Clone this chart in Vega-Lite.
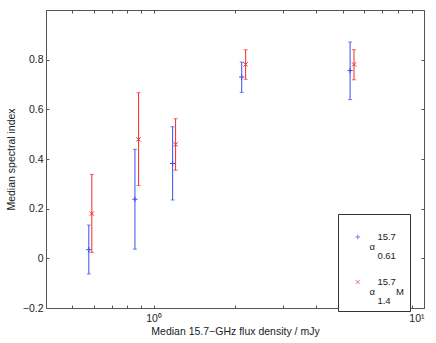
{
  "$schema": "https://vega.github.io/schema/vega-lite/v6.json",
  "width": 378,
  "height": 298,
  "autosize": {"type": "none"},
  "padding": {"left": 46, "top": 10, "right": 12, "bottom": 35},
  "background": "white",
  "config": {
    "font": "Liberation Sans",
    "view": {"stroke": "#555555", "strokeWidth": 1},
    "axis": {"labelFont": "Liberation Sans", "titleFont": "Liberation Sans", "labelFontSize": 10.5, "titleFontSize": 10.5, "titleFontWeight": "normal", "labelColor": "#222", "titleColor": "#222", "domain": false, "grid": false, "tickColor": "#555555", "tickSize": -3},
    "style": {"guide-label": {"lineHeight": 9.5}}
  },
  "data": {"values": [
    {"series": "a", "x": 0.576, "y": 0.035, "lo": -0.063, "hi": 0.134},
    {"series": "a", "x": 0.853, "y": 0.238, "lo": 0.037, "hi": 0.439},
    {"series": "a", "x": 1.176, "y": 0.382, "lo": 0.235, "hi": 0.530},
    {"series": "a", "x": 2.118, "y": 0.730, "lo": 0.668, "hi": 0.790},
    {"series": "a", "x": 5.33, "y": 0.756, "lo": 0.639, "hi": 0.871},
    {"series": "b", "x": 0.591, "y": 0.180, "lo": 0.024, "hi": 0.338},
    {"series": "b", "x": 0.880, "y": 0.479, "lo": 0.293, "hi": 0.667},
    {"series": "b", "x": 1.206, "y": 0.459, "lo": 0.355, "hi": 0.562},
    {"series": "b", "x": 2.19, "y": 0.781, "lo": 0.721, "hi": 0.840},
    {"series": "b", "x": 5.51, "y": 0.781, "lo": 0.719, "hi": 0.840}
  ]},
  "layer": [
    {
      "mark": {"type": "rule", "strokeWidth": 1},
      "encoding": {
        "x": {"field": "x", "type": "quantitative", "scale": {"type": "log", "domain": [0.4, 10], "nice": false},
          "axis": {"orient": "bottom", "title": "Median 15.7−GHz flux density / mJy", "values": [0.4,0.5,0.6,0.7,0.8,0.9,1,2,3,4,5,6,7,8,9,10],
            "labelExpr": "datum.value == 1 ? '10⁰' : datum.value == 10 ? '10¹' : ''", "labelPadding": 8, "titlePadding": 3}},
        "y": {"field": "lo", "type": "quantitative", "scale": {"domain": [-0.2, 1.0], "nice": false, "zero": false},
          "axis": {"orient": "left", "title": "Median spectral index", "values": [-0.2,0,0.2,0.4,0.6,0.8,1.0],
            "labelExpr": "datum.value == 0 ? '0' : datum.value > 0.99 ? '' : replace(format(datum.value, '.1f'), '-', '−')", "labelPadding": 6, "titlePadding": 6}},
        "y2": {"field": "hi"},
        "color": {"field": "series", "type": "nominal", "scale": {"domain": ["a", "b"], "range": ["#3b4df0", "#f02a2a"]}}
      }
    },
    {
      "mark": {"type": "tick", "orient": "horizontal", "size": 4, "thickness": 1},
      "encoding": {
        "x": {"field": "x", "type": "quantitative", "axis": null},
        "y": {"field": "lo", "type": "quantitative", "axis": null},
        "color": {"field": "series", "type": "nominal"}
      }
    },
    {
      "mark": {"type": "tick", "orient": "horizontal", "size": 4, "thickness": 1},
      "encoding": {
        "x": {"field": "x", "type": "quantitative", "axis": null},
        "y": {"field": "hi", "type": "quantitative", "axis": null},
        "color": {"field": "series", "type": "nominal"}
      }
    },
    {
      "mark": {"type": "point", "filled": false, "strokeWidth": 1, "size": 28, "opacity": 1},
      "encoding": {
        "x": {"field": "x", "type": "quantitative", "axis": {"orient": "top", "title": null, "labels": false, "values": [0.4,0.5,0.6,0.7,0.8,0.9,1,2,3,4,5,6,7,8,9,10]}},
        "y": {"field": "y", "type": "quantitative", "axis": {"orient": "right", "title": null, "labels": false, "values": [-0.2,0,0.2,0.4,0.6,0.8,1.0]}},
        "color": {"field": "series", "type": "nominal",
          "legend": {"title": null, "orient": "none", "legendX": 292, "legendY": 204, "fillColor": "white", "strokeColor": "#333", "padding": 5, "rowPadding": 3, "clipHeight": 36, "symbolOffset": 10, "labelOffset": 7, "labelFontSize": 9.5, "labelFont": "Liberation Sans", "labelColor": "#222", "symbolStrokeWidth": 1, "symbolSize": 22, "labelLimit": 0,
            "labelExpr": "datum.value == 'a' ? ['\u200b\u00a0\u00a0\u00a015.7', 'α', '\u200b\u00a0\u00a0\u00a00.61'] : ['\u200b\u00a0\u00a0\u00a015.7', 'α\u00a0\u00a0\u00a0\u00a0\u00a0\u00a0\u00a0\u00a0M', '\u200b\u00a0\u00a0\u00a01.4']"}},
        "shape": {"field": "series", "type": "nominal", "scale": {"domain": ["a", "b"], "range": ["M-1,0H1M0,-1V1", "M-0.8,-0.8L0.8,0.8M-0.8,0.8L0.8,-0.8"]},
          "legend": {"title": null, "orient": "none", "legendX": 292, "legendY": 204, "fillColor": "white", "strokeColor": "#333", "padding": 5, "rowPadding": 3, "clipHeight": 36, "symbolOffset": 10, "labelOffset": 7, "labelFontSize": 9.5, "labelFont": "Liberation Sans", "labelColor": "#222", "symbolStrokeWidth": 1, "symbolSize": 22, "labelLimit": 0,
            "labelExpr": "datum.value == 'a' ? ['\u200b\u00a0\u00a0\u00a015.7', 'α', '\u200b\u00a0\u00a0\u00a00.61'] : ['\u200b\u00a0\u00a0\u00a015.7', 'α\u00a0\u00a0\u00a0\u00a0\u00a0\u00a0\u00a0\u00a0M', '\u200b\u00a0\u00a0\u00a01.4']"}}
      }
    }
  ],
  "resolve": {"axis": {"x": "independent", "y": "independent"}}
}
